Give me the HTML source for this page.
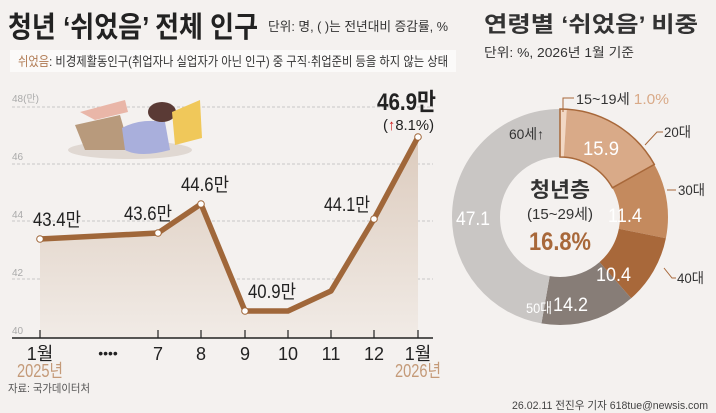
<!DOCTYPE html>
<html><head><meta charset="utf-8"><style>
html,body{margin:0;padding:0;background:#f4f1ef;}
svg{display:block;font-family:"Liberation Sans","Noto Sans CJK KR",sans-serif;}
</style></head><body>
<svg width="716" height="413" viewBox="0 0 716 413" xmlns="http://www.w3.org/2000/svg">
<rect width="716" height="413" fill="#f4f1ef"/>
<defs><linearGradient id="g" x1="0" y1="0" x2="0" y2="1"><stop offset="0" stop-color="#dccbbd"/><stop offset="1" stop-color="#f1ebe6"/></linearGradient></defs>
<!-- header -->
<text x="8" y="37" font-size="29" font-weight="bold" fill="#222" textLength="250" lengthAdjust="spacingAndGlyphs">청년 ‘쉬었음’ 전체 인구</text>
<text x="268" y="31" font-size="13" fill="#333" textLength="180" lengthAdjust="spacingAndGlyphs">단위: 명, ( )는 전년대비 증감률, %</text>
<rect x="10" y="50" width="446" height="22" fill="#fbfaf9"/>
<text x="18" y="66" font-size="13" fill="#333" textLength="430" lengthAdjust="spacingAndGlyphs"><tspan fill="#b07a52">쉬었음</tspan>: 비경제활동인구(취업자나 실업자가 아닌 인구) 중 구직·취업준비 등을 하지 않는 상태</text>
<text x="484" y="32" font-size="22" font-weight="bold" fill="#333" textLength="214" lengthAdjust="spacingAndGlyphs">연령별 ‘쉬었음’ 비중</text>
<text x="484" y="57" font-size="13" fill="#333" textLength="150" lengthAdjust="spacingAndGlyphs">단위: %, 2026년 1월 기준</text>
<!-- grid -->
<g stroke="#bbb" stroke-dasharray="3,2" stroke-width="0.8">
<line x1="12" y1="107" x2="433" y2="107"/><line x1="12" y1="164" x2="433" y2="164"/>
<line x1="12" y1="221" x2="433" y2="221"/><line x1="12" y1="279" x2="433" y2="279"/></g>
<g font-size="10" fill="#aaa"><text x="12" y="102">48(만)</text><text x="12" y="160">46</text><text x="12" y="218">44</text><text x="12" y="276">42</text><text x="12" y="334">40</text></g>
<!-- illustration -->
<ellipse cx="130" cy="150" rx="62" ry="9" fill="#e0d8d2"/>
<path d="M80,112 L125,100 L128,112 L95,120 Z" fill="#e9b6a8"/>
<path d="M75,125 L120,115 L130,150 L85,150 Z" fill="#b89a7c"/>
<path d="M122,128 Q140,118 165,122 L170,150 Q140,158 125,150 Z" fill="#a9afdc"/>
<ellipse cx="162" cy="112" rx="14" ry="10" fill="#5a3a35"/>
<path d="M172,112 L200,100 L202,138 L175,145 Z" fill="#f0c85a"/>
<!-- area & line -->
<path d="M40,239 L158,233 L201,204 L245,311 L288,311 L331,291 L374,219 L418,137 L418,338 L40,338 Z" fill="url(#g)"/>
<polyline points="40,239 158,233 201,204 245,311 288,311 331,291 374,219 418,137" fill="none" stroke="#a0673a" stroke-width="5.5" stroke-linejoin="round"/>
<g fill="#fff" stroke="#a0673a" stroke-width="1"><circle cx="40" cy="239" r="3.3"/><circle cx="158" cy="233" r="3.3"/><circle cx="201" cy="204" r="3.3"/><circle cx="245" cy="311" r="3.3"/><circle cx="374" cy="219" r="3.3"/><circle cx="418" cy="137" r="3.3"/></g>
<g font-size="19" fill="#222" lengthAdjust="spacingAndGlyphs"><text x="33" y="226" textLength="48" lengthAdjust="spacingAndGlyphs">43.4만</text><text x="124" y="220" textLength="48" lengthAdjust="spacingAndGlyphs">43.6만</text><text x="181" y="191" textLength="48" lengthAdjust="spacingAndGlyphs">44.6만</text><text x="248" y="298" textLength="48" lengthAdjust="spacingAndGlyphs">40.9만</text><text x="324" y="211" textLength="46" lengthAdjust="spacingAndGlyphs">44.1만</text></g>
<text x="377" y="110" font-size="24" font-weight="bold" fill="#222" textLength="59" lengthAdjust="spacingAndGlyphs">46.9만</text>
<text x="383" y="130" font-size="15" fill="#222" textLength="51" lengthAdjust="spacingAndGlyphs">(<tspan fill="#d02020" font-weight="bold">↑</tspan>8.1%)</text>
<!-- axis -->
<line x1="12" y1="338" x2="433" y2="338" stroke="#222" stroke-width="1.5"/>
<g stroke="#222" stroke-width="1.2"><line x1="40" y1="330" x2="40" y2="338"/><line x1="158" y1="330" x2="158" y2="338"/><line x1="201" y1="330" x2="201" y2="338"/><line x1="245" y1="330" x2="245" y2="338"/><line x1="288" y1="330" x2="288" y2="338"/><line x1="331" y1="330" x2="331" y2="338"/><line x1="374" y1="330" x2="374" y2="338"/><line x1="418" y1="330" x2="418" y2="338"/></g>
<g font-size="18" fill="#222" text-anchor="middle"><text x="40" y="360">1월</text><text x="108" y="358" font-size="14">••••</text><text x="158" y="360">7</text><text x="201" y="360">8</text><text x="245" y="360">9</text><text x="288" y="360">10</text><text x="331" y="360">11</text><text x="374" y="360">12</text><text x="418" y="360">1월</text></g>
<text x="17" y="377" font-size="18" fill="#c49a78" textLength="46" lengthAdjust="spacingAndGlyphs">2025년</text>
<text x="395" y="377" font-size="18" fill="#c49a78" textLength="46" lengthAdjust="spacingAndGlyphs">2026년</text>
<text x="8" y="392" font-size="11" fill="#555" textLength="82" lengthAdjust="spacingAndGlyphs">자료: 국가데이터처</text>
<text x="512" y="409" font-size="11" fill="#444" textLength="196" lengthAdjust="spacingAndGlyphs">26.02.11 전진우 기자 618tue@newsis.com</text>
<!-- donut -->
<g transform="translate(560,217) rotate(-90)" fill="none" stroke-width="48">
<circle r="84" stroke="#f2d8c4" stroke-dasharray="5.3 600"/>
<circle r="84" stroke="#d9aa88" stroke-dasharray="0 5.3 83.4 600"/>
<circle r="84" stroke="#c48a5e" stroke-dasharray="0 88.7 59.8 600"/>
<circle r="84" stroke="#a8683a" stroke-dasharray="0 148.5 54.9 600"/>
<circle r="84" stroke="#877d77" stroke-dasharray="0 203.4 74.9 600"/>
<circle r="84" stroke="#c9c6c4" stroke-dasharray="0 278.3 250 600"/>
</g>
<path d="M560,109 A108,108 0 0 1 654.3,164.4 L612.4,187.8 A60,60 0 0 0 560,157 Z" fill="none" stroke="#a8683a" stroke-width="1.5"/>
<g fill="#fff" font-size="19"><text x="583" y="155" textLength="36" lengthAdjust="spacingAndGlyphs">15.9</text><text x="608" y="222" textLength="34" lengthAdjust="spacingAndGlyphs">11.4</text><text x="596" y="281" textLength="35" lengthAdjust="spacingAndGlyphs">10.4</text><text x="553" y="311" textLength="35" lengthAdjust="spacingAndGlyphs">14.2</text><text x="456" y="225" textLength="34" lengthAdjust="spacingAndGlyphs">47.1</text></g>
<text x="526" y="313" font-size="14" fill="#fff" textLength="26" lengthAdjust="spacingAndGlyphs">50대</text>
<text x="509" y="139" font-size="14" fill="#333" textLength="35" lengthAdjust="spacingAndGlyphs">60세↑</text>
<g stroke="#a8683a" stroke-width="1" fill="none"><polyline points="563,112 563,98 574,98"/><polyline points="645,145 657,132 663,132"/><polyline points="667,190 676,190"/><polyline points="664,268 672,278 676,278"/></g>
<text x="576" y="104" font-size="14" fill="#333" textLength="93" lengthAdjust="spacingAndGlyphs">15~19세 <tspan fill="#d9aa88" font-size="15">1.0%</tspan></text>
<text x="664" y="137" font-size="14" fill="#333" textLength="27" lengthAdjust="spacingAndGlyphs">20대</text>
<text x="678" y="195" font-size="14" fill="#333" textLength="27" lengthAdjust="spacingAndGlyphs">30대</text>
<text x="677" y="283" font-size="14" fill="#333" textLength="27" lengthAdjust="spacingAndGlyphs">40대</text>
<text x="530" y="197" font-size="21" font-weight="bold" fill="#333" textLength="60" lengthAdjust="spacingAndGlyphs">청년층</text>
<text x="527" y="219" font-size="15" fill="#333" textLength="66" lengthAdjust="spacingAndGlyphs">(15~29세)</text>
<text x="529" y="250" font-size="25" font-weight="bold" fill="#a8683a" textLength="62" lengthAdjust="spacingAndGlyphs">16.8%</text>
</svg>
</body></html>
